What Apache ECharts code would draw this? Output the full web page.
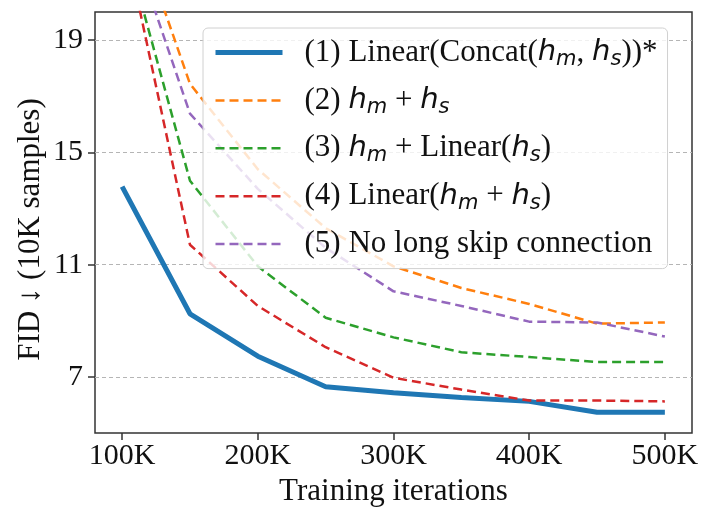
<!DOCTYPE html>
<html>
<head>
    <meta charset="utf-8">
    <title>FID vs training iterations</title>
    <script src="https://cdn.jsdelivr.net/npm/echarts@6/dist/echarts.min.js"></script>
    <style>
        html, body { margin: 0; padding: 0; background: #fff; }
        #main { width: 703px; height: 512px; }
    </style>
</head>
<body>
<div id="main"></div>
<script type="text/javascript">
    // iterations (K)
    var iters = [100, 150, 200, 250, 300, 350, 400, 450, 500];
    var xTicks = [100, 200, 300, 400, 500];
    var yTicks = [7, 11, 15, 19];

    // FID values
    var fidConcat    = [13.78, 9.25, 7.74, 6.65, 6.44, 6.27, 6.13, 5.74, 5.74];
    var fidAdd       = [24.4, 17.44, 14.4, 12.3, 10.94, 10.17, 9.6, 8.9, 8.94];
    var fidAddLinear = [22.8, 13.99, 10.94, 9.11, 8.41, 7.88, 7.71, 7.53, 7.53];
    var fidLinearAdd = [23.0, 11.71, 9.53, 8.06, 6.97, 6.55, 6.16, 6.16, 6.13];
    var fidNoSkip    = [23.5, 16.38, 13.7, 11.6, 10.05, 9.53, 8.97, 8.94, 8.44];

    var names = ['(1)', '(2)', '(3)', '(4)', '(5)'];
    var colors = ['#1f77b4', '#ff7f0e', '#2ca02c', '#d62728', '#9467bd'];
    var values = [fidConcat, fidAdd, fidAddLinear, fidLinearAdd, fidNoSkip];

    // legend labels with the math parts
    var labels = {
        '(1)': '{t|(1) Linear(Concat(}{h|h}{s|m}{t|, }{h|h}{s|s}{t|))*}',
        '(2)': '{t|(2) }{h|h}{s|m}{t| + }{h|h}{s|s}',
        '(3)': '{t|(3) }{h|h}{s|m}{t| + Linear(}{h|h}{s|s}{t|)}',
        '(4)': '{t|(4) Linear(}{h|h}{s|m}{t| + }{h|h}{s|s}{t|)}',
        '(5)': '{t|(5) No long skip connection}'
    };

    var serif = 'Liberation Serif';

    var series = [];
    var legendData = [];
    for (var i = 0; i < names.length; i++) {
        var pts = [];
        for (var j = 0; j < iters.length; j++) {
            pts.push([iters[j], values[i][j]]);
        }
        var ls = i == 0 ? {width: 5, color: colors[i]} : {width: 2.5, color: colors[i], type: [9, 5]};
        series.push({
            name: names[i],
            type: 'line',
            data: pts,
            symbol: 'none',
            clip: true,
            color: colors[i],
            lineStyle: ls
        });
        legendData.push({name: names[i], itemStyle: {opacity: 0}, lineStyle: ls});
    }

    var myChart = echarts.init(document.getElementById('main'));
    var option = {
        animation: false,
        grid: {
            left: 95, right: 11, top: 12, bottom: 73,
            show: true, borderColor: '#333', borderWidth: 1.5, backgroundColor: 'transparent'
        },
        legend: {
            orient: 'vertical',
            left: 203,
            top: 28,
            data: legendData,
            itemWidth: 67,
            itemHeight: 14,
            itemGap: 14.4,
            padding: [9, 10, 9, 10],
            backgroundColor: 'rgba(255,255,255,0.8)',
            borderColor: '#d0d0d0',
            borderWidth: 1,
            borderRadius: 5,
            formatter: function (name) { return labels[name]; },
            textStyle: {
                padding: [0, 0, 0, 17],
                rich: {
                    t: {fontFamily: serif, fontSize: 31, color: '#111', lineHeight: 36},
                    h: {fontFamily: 'DejaVu Sans', fontStyle: 'italic', fontSize: 29, color: '#111', lineHeight: 36},
                    s: {fontFamily: 'DejaVu Sans', fontStyle: 'italic', fontSize: 21, color: '#111', lineHeight: 18, verticalAlign: 'bottom'}
                }
            }
        },
        xAxis: {
            type: 'value',
            min: 80,
            max: 520,
            name: 'Training iterations',
            nameLocation: 'middle',
            nameGap: 41,
            nameTextStyle: {fontFamily: serif, fontSize: 31, color: '#111'},
            axisLine: {show: false},
            axisTick: {show: true, length: 7, customValues: xTicks, lineStyle: {color: '#333', width: 1.5}},
            axisLabel: {
                customValues: xTicks,
                margin: 8,
                fontFamily: serif, fontSize: 30, color: '#111',
                formatter: function (v) { return v + 'K'; }
            },
            splitLine: {show: false}
        },
        yAxis: {
            type: 'value',
            min: 5,
            max: 20,
            name: 'FID \u2193 (10K samples)',
            nameLocation: 'middle',
            nameGap: 49,
            nameMoveOverlap: false,
            nameTextStyle: {fontFamily: serif, fontSize: 31, color: '#111', padding: [0, 14, 0, 0]},
            axisLine: {show: false},
            axisTick: {show: true, length: 7, customValues: yTicks, lineStyle: {color: '#333', width: 1.5}},
            axisLabel: {
                customValues: yTicks,
                margin: 12,
                fontFamily: serif, fontSize: 30, color: '#111'
            },
            splitLine: {show: true, lineStyle: {color: '#b5b5b5', width: 1, type: [4, 3]}}
        },
        series: series
    };
    myChart.setOption(option);
</script>
</body>
</html>
